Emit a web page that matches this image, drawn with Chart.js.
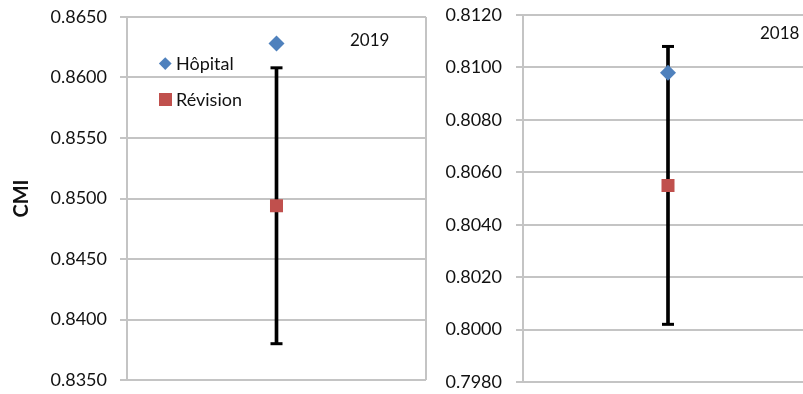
<!DOCTYPE html>
<html>
<head>
<meta charset="utf-8">
<script src="https://cdn.jsdelivr.net/npm/chart.js@4/dist/chart.umd.min.js"></script>
<style>
  html, body { margin: 0; padding: 0; width: 803px; height: 394px; overflow: hidden; background: #fff; }
  body { position: relative; font-family: Lato, "Open Sans", sans-serif; color: #111; }
  canvas { position: absolute; top: 0; display: block; }
  #c2019 { left: 0; }
  #c2018 { left: 400px; }
  .year { position: absolute; font-size: 17px; line-height: 17px; white-space: nowrap; }
  .lg { position: absolute; font-size: 18px; line-height: 18px; white-space: nowrap; }
  .sym { position: absolute; }
</style>
</head>
<body>
<canvas id="c2019" width="428" height="394"></canvas>
<canvas id="c2018" width="420" height="394"></canvas>

<div class="year" id="y2019" style="left:350px; top:31px;"></div>
<div class="year" id="y2018" style="left:760px; top:24px;"></div>

<span class="sym" style="left:160.8px; top:58.8px; width:8.5px; height:8.5px; background:#4F81BD; transform:rotate(45deg);"></span>
<div class="lg" id="lgH" style="left:176px; top:54px;"></div>
<span class="sym" style="left:158.5px; top:92.5px; width:13px; height:13px; background:#C0504D;"></span>
<div class="lg" id="lgR" style="left:176px; top:90px;"></div>

<script>
// Case-mix index: hospital value, revised value and its interval, per year
const years = ['2019', '2018'];
const seriesNames = ['Hôpital', 'Révision'];
const categories = [''];

const hopital2019 = [0.8628];
const revision2019 = [0.8494];
const errLow2019 = [0.8380];
const errHigh2019 = [0.8608];

const hopital2018 = [0.8098];
const revision2018 = [0.8055];
const errLow2018 = [0.8002];
const errHigh2018 = [0.8108];

const yTicks2019 = [0.8350, 0.8400, 0.8450, 0.8500, 0.8550, 0.8600, 0.8650];
const yTicks2018 = [0.7980, 0.8000, 0.8020, 0.8040, 0.8060, 0.8080, 0.8100, 0.8120];

const axisTitle = 'CMI';

document.getElementById('y2019').textContent = years[0];
document.getElementById('y2018').textContent = years[1];
document.getElementById('lgH').textContent = seriesNames[0];
document.getElementById('lgR').textContent = seriesNames[1];

const GRID = '#c4c4c4';
const TEXT = '#111';
const BLUE = '#4F81BD';
const RED = '#C0504D';

// keep the plot area exactly where the layout padding puts it
function noScalePadding(s) {
  s.paddingTop = 0; s.paddingBottom = 0; s.paddingLeft = 0; s.paddingRight = 0;
}

function buildChart(canvasId, cfg) {
  const ticks = cfg.ticks;
  const datasets = [
    {
      type: 'bar',
      label: 'interval',
      data: cfg.low.map((lo, i) => [lo, cfg.high[i]]),
      backgroundColor: '#000',
      borderWidth: 0,
      barThickness: 3,
      order: 5
    },
    {
      type: 'line',
      label: 'cap-high',
      data: cfg.high,
      showLine: false,
      pointStyle: 'line',
      pointRadius: 6,
      pointBorderWidth: 3,
      pointBorderColor: '#000',
      order: 4
    },
    {
      type: 'line',
      label: 'cap-low',
      data: cfg.low,
      showLine: false,
      pointStyle: 'line',
      pointRadius: 6,
      pointBorderWidth: 3,
      pointBorderColor: '#000',
      order: 3
    },
    {
      type: 'line',
      label: seriesNames[1],
      data: cfg.revision,
      showLine: false,
      pointStyle: 'rect',
      pointRadius: 9.2,
      pointBorderWidth: 0,
      pointBackgroundColor: RED,
      order: 2
    },
    {
      type: 'line',
      label: seriesNames[0],
      data: cfg.hopital,
      showLine: false,
      pointStyle: 'rectRot',
      pointRadius: 8,
      pointBorderWidth: 0,
      pointBackgroundColor: BLUE,
      order: 1
    }
  ];

  return new Chart(document.getElementById(canvasId), {
    type: 'bar',
    data: { labels: categories, datasets },
    options: {
      responsive: false,
      animation: false,
      events: [],
      layout: { padding: cfg.padding, autoPadding: false },
      plugins: { legend: { display: false }, tooltip: { enabled: false }, title: { display: false } },
      scales: {
        x: {
          offset: true,
          ticks: { display: false },
          grid: { offset: true, color: GRID, lineWidth: 2, drawTicks: false },
          border: { display: false },
          afterFit: s => { s.height = 0; noScalePadding(s); }
        },
        y: {
          min: ticks[0],
          max: ticks[ticks.length - 1],
          ticks: {
            stepSize: ticks[1] - ticks[0],
            callback: v => Number(v).toFixed(4),
            font: { family: 'Lato', size: 18 },
            color: TEXT,
            padding: cfg.tickPad
          },
          grid: { color: GRID, lineWidth: 2, tickLength: 7, drawTicks: true },
          border: { color: GRID, width: 2 },
          title: cfg.title ? {
            display: true,
            text: axisTitle,
            font: { family: 'Lato', size: 20, weight: 'bold' },
            color: TEXT,
            padding: { top: 10, bottom: 0 }
          } : { display: false },
          afterFit: s => { s.width = cfg.axisWidth; noScalePadding(s); }
        }
      }
    }
  });
}

buildChart('c2019', {
  hopital: hopital2019, revision: revision2019, low: errLow2019, high: errHigh2019,
  ticks: yTicks2019, title: true, axisWidth: 127, tickPad: 13,
  padding: { top: 17, bottom: 14, left: 0, right: 2 }
});

buildChart('c2018', {
  hopital: hopital2018, revision: revision2018, low: errLow2018, high: errHigh2018,
  ticks: yTicks2018, title: false, axisWidth: 123, tickPad: 14,
  padding: { top: 15, bottom: 12, left: 0, right: 7 }
});
</script>
</body>
</html>
